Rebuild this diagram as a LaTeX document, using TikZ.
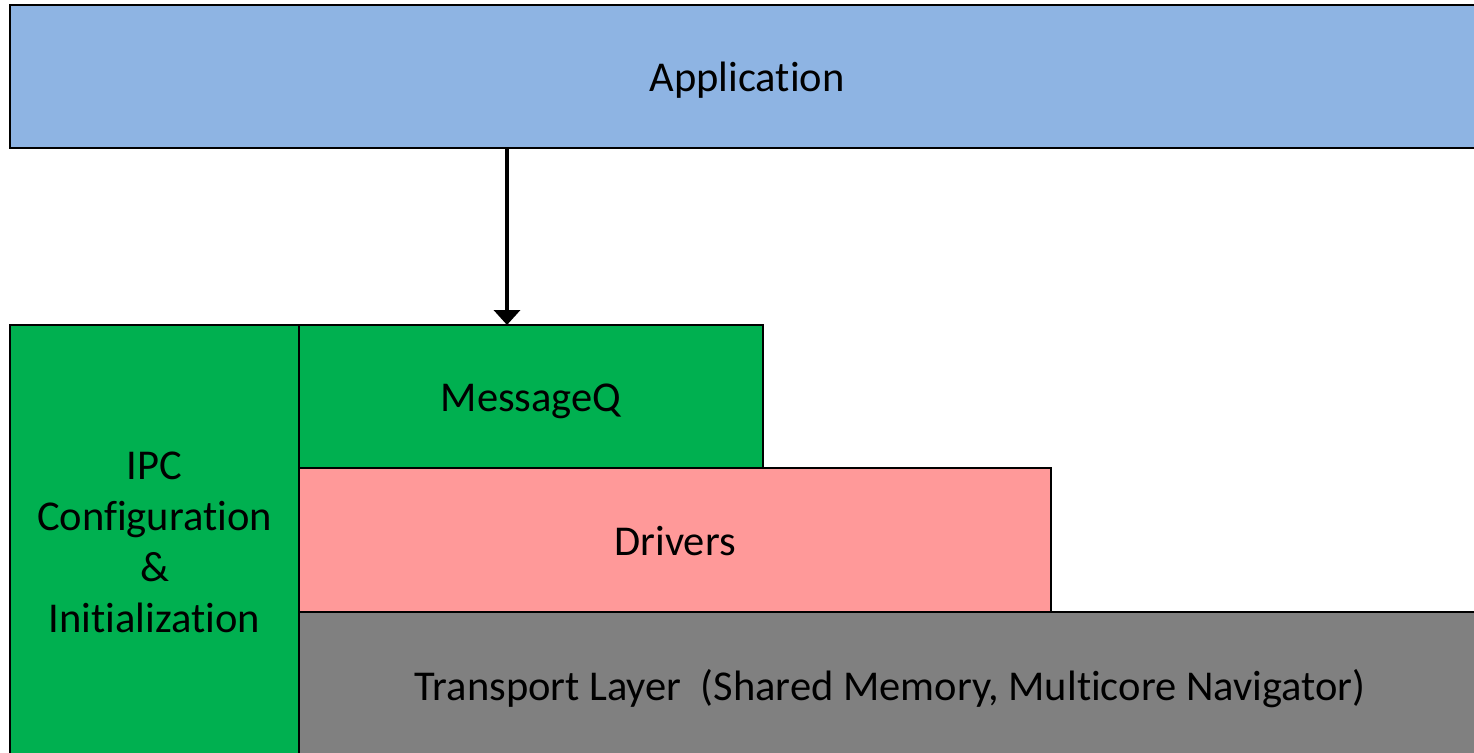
\documentclass[tikz,border=0pt]{standalone}
\usepackage{fontspec}
\setmainfont{Carlito}[Ligatures=NoCommon]
\usetikzlibrary{arrows.meta}
\definecolor{appblue}{HTML}{8EB4E3}
\definecolor{ipcgreen}{HTML}{00B050}
\definecolor{drvpink}{HTML}{FF9999}
\definecolor{tpgray}{HTML}{808080}
\tikzset{
  layer/.style={draw=black, line width=2.5pt, rectangle, anchor=north west,
    inner sep=0pt, outer sep=0pt, align=center,
    font=\fontsize{42.5}{51}\selectfont},
  oneline/.style={layer, text height=32pt, text depth=2pt},
  callarrow/.style={line width=4.5pt, -{Triangle[width=26pt,length=15pt]}}
}
\begin{document}
\begin{tikzpicture}[x=1pt,y=-1pt]
  \useasboundingbox (0,0) rectangle (1474,752);
  \clip (0,0) rectangle (1474,752);
  % top application layer
  \node[oneline, fill=appblue, minimum width=1474pt, minimum height=143pt] (app) at (10,5) {Application};
  % side configuration block
  \node[layer, fill=ipcgreen, minimum width=289pt, minimum height=435pt] (ipc) at (10,325)
    {IPC\\Configuration\\\&\\Initialization};
  % stacked IPC layers
  \node[oneline, fill=ipcgreen, minimum width=464pt, minimum height=143pt] (msgq) at (299,325) {MessageQ};
  \node[oneline, fill=drvpink, minimum width=752pt, minimum height=144pt] (drv) at (299,468) {Drivers};
  \node[oneline, fill=tpgray, minimum width=1182pt, minimum height=146pt] (tp) at (299,612)
    {Transport Layer\ \ (Shared Memory, Multicore Navigator)};
  % call from the application into MessageQ
  \coordinate (ax) at (507,0);
  \draw[callarrow] (ax |- app.south) -- (ax |- msgq.north);
\end{tikzpicture}
\end{document}
